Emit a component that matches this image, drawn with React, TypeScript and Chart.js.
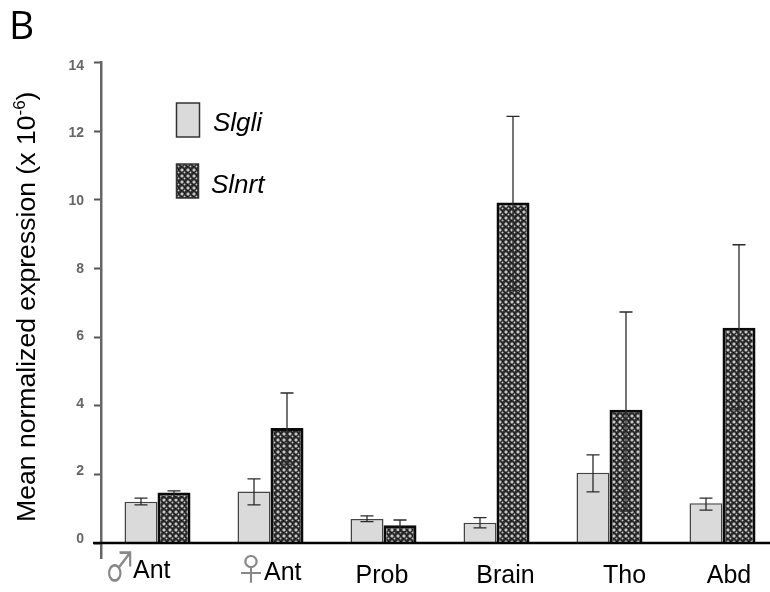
import React, { useEffect, useRef } from "react";
import { Chart, registerables } from "chart.js";

Chart.register(...registerables);

const categories = ["♂Ant", "♀Ant", "Prob", "Brain", "Tho", "Abd"];
const slgliValues = [1.2, 1.5, 0.7, 0.59, 2.05, 1.16];
const slnrtValues = [1.47, 3.35, 0.52, 9.92, 3.88, 6.27];
const slgliLow = [1.11, 1.11, 0.62, 0.44, 1.49, 0.96];
const slgliHigh = [1.31, 1.87, 0.79, 0.74, 2.57, 1.31];
const slnrtLow = [1.31, 2.3, 0.33, 7.36, 0.93, 3.88];
const slnrtHigh = [1.52, 4.37, 0.67, 12.43, 6.73, 8.69];
const seriesNames = ["Slgli", "Slnrt"];
const yTicks = [0, 2, 4, 6, 8, 10, 12, 14];

function makePattern(): CanvasPattern | string {
  const c = document.createElement("canvas");
  c.width = 6;
  c.height = 6;
  const g = c.getContext("2d")!;
  g.fillStyle = "#2c2c2c";
  g.fillRect(0, 0, 6, 6);
  g.fillStyle = "#6c6c6c";
  g.fillRect(0, 1, 4, 2);
  g.fillRect(1, 0, 2, 4);
  g.fillRect(3, 4, 3, 1);
  g.fillRect(4, 3, 1, 3);
  g.fillStyle = "#c8c8c8";
  g.fillRect(1, 1, 2, 2);
  g.fillRect(4, 4, 1, 1);
  g.fillStyle = "#111";
  g.fillRect(4, 1, 1, 1);
  g.fillRect(1, 4, 1, 1);
  return g.createPattern(c, "repeat") || "#555";
}

const overlay = {
  id: "overlay",
  afterDatasetsDraw(chart: any) {
    const { ctx, scales } = chart;
    const y = scales.y;
    const zero = y.getPixelForValue(0);
    ctx.save();

    // error bars
    const drawErr = (i: number, lows: number[], highs: number[]) => {
      const meta = chart.getDatasetMeta(i);
      meta.data.forEach((bar: any, k: number) => {
        const px = bar.x;
        const lo = y.getPixelForValue(lows[k]);
        const hi = y.getPixelForValue(highs[k]);
        ctx.strokeStyle = "#2a2a2a";
        ctx.lineWidth = 1.3;
        ctx.beginPath();
        ctx.moveTo(px, lo);
        ctx.lineTo(px, hi);
        ctx.moveTo(px - 6.5, hi);
        ctx.lineTo(px + 6.5, hi);
        ctx.moveTo(px - 6.5, lo);
        ctx.lineTo(px + 6.5, lo);
        ctx.stroke();
      });
    };
    drawErr(0, slgliLow, slgliHigh);
    drawErr(1, slnrtLow, slnrtHigh);

    // x axis line
    ctx.strokeStyle = "#000";
    ctx.lineWidth = 2.5;
    ctx.beginPath();
    ctx.moveTo(93, zero);
    ctx.lineTo(770, zero);
    ctx.stroke();

    // y tick labels (slightly compressed against their tick marks, as in the figure)
    ctx.textBaseline = "middle";
    ctx.textAlign = "right";
    ctx.fillStyle = "#666";
    ctx.font = 'bold 14px "Liberation Sans"';
    yTicks.forEach((v) => {
      ctx.fillText(String(v), 84, y.getPixelForValue(v) - 4 + (v * 7.5) / 14);
    });

    // x labels
    ctx.textBaseline = "alphabetic";
    ctx.fillStyle = "#888";
    ctx.font = '31px "Noto Sans CJK SC"';
    ctx.textAlign = "center";
    ctx.save();
    ctx.translate(120, 581);
    ctx.scale(1, 1.3);
    ctx.fillText(categories[0].slice(0, 1), 0, 0);
    ctx.restore();
    ctx.fillText(categories[1].slice(0, 1), 251, 580);
    ctx.fillStyle = "#000";
    ctx.font = '25px "Liberation Sans"';
    ctx.textAlign = "left";
    ctx.fillText(categories[0].slice(1), 133, 578);
    ctx.fillText(categories[1].slice(1), 264, 580);
    ctx.textAlign = "center";
    ctx.fillText(categories[2], 382, 583);
    ctx.fillText(categories[3], 505.5, 583);
    ctx.fillText(categories[4], 624.5, 583);
    ctx.fillText(categories[5], 729, 583);

    // y axis title
    ctx.save();
    ctx.translate(35, 522);
    ctx.rotate(-Math.PI / 2);
    ctx.textAlign = "left";
    ctx.font = '26.6px "Liberation Sans"';
    const main = "Mean normalized expression (x 10";
    ctx.fillText(main, 0, 0);
    const w = ctx.measureText(main).width;
    ctx.font = '17px "Liberation Sans"';
    ctx.fillText("-6", w, -10);
    const w2 = ctx.measureText("-6").width;
    ctx.font = '26.6px "Liberation Sans"';
    ctx.fillText(")", w + w2, 0);
    ctx.restore();

    // legend
    const pattern = chart.data.datasets[1].backgroundColor;
    ctx.lineWidth = 1.5;
    ctx.strokeStyle = "#333";
    ctx.fillStyle = "#dadada";
    ctx.fillRect(176.5, 103, 23, 34);
    ctx.strokeRect(176.5, 103, 23, 34);
    ctx.fillStyle = pattern;
    ctx.fillRect(176.5, 164, 22, 34);
    ctx.strokeRect(176.5, 164, 22, 34);
    ctx.fillStyle = "#000";
    ctx.textAlign = "left";
    ctx.font = 'italic 26px "Liberation Sans"';
    ctx.fillText(seriesNames[0], 213, 131);
    ctx.fillText(seriesNames[1], 211, 193);

    // panel letter
    ctx.font = '39px "Open Sans"';
    ctx.fillText("B", 9, 39);
    ctx.restore();
  },
};

export default function App() {
  const ref = useRef<HTMLCanvasElement>(null);
  useEffect(() => {
    document.body.style.margin = "0";
    document.body.style.background = "#fff";
    const pattern = makePattern();
    const chart = new Chart(ref.current!, {
      type: "bar",
      data: {
        labels: categories,
        datasets: [
          {
            label: seriesNames[0],
            data: slgliValues,
            backgroundColor: "#dadada",
            borderColor: "#444",
            borderWidth: 1.5,
          },
          {
            label: seriesNames[1],
            data: slnrtValues,
            backgroundColor: pattern as any,
            borderColor: "#0a0a0a",
            borderWidth: 3,
          },
        ],
      },
      plugins: [overlay],
      options: {
        responsive: false,
        animation: false,
        layout: { padding: { top: 62.5, bottom: 34, left: 0, right: 0 } },
        plugins: { legend: { display: false }, tooltip: { enabled: false } },
        datasets: { bar: { categoryPercentage: 0.584, barPercentage: 1 } },
        scales: {
          x: {
            grid: { display: false },
            border: { display: false },
            ticks: { display: false },
            afterFit: (s: any) => {
              s.height = 0;
            },
          },
          y: {
            min: -0.437,
            max: 14,
            afterBuildTicks: (s: any) => {
              s.ticks = yTicks.map((value) => ({ value }));
            },
            afterFit: (s: any) => {
              s.width = 101;
            },
            grid: {
              drawOnChartArea: false,
              drawTicks: true,
              tickLength: 7,
              tickWidth: 2,
              tickColor: "#555",
            },
            border: { display: true, color: "#666", width: 2.5 },
            ticks: { display: false },
          },
        },
      },
    } as any);
    return () => chart.destroy();
  }, []);
  return (
    <div style={{ width: 770, height: 592, overflow: "hidden" }}>
      <canvas ref={ref} width={779} height={592} style={{ display: "block" }} />
    </div>
  );
}
